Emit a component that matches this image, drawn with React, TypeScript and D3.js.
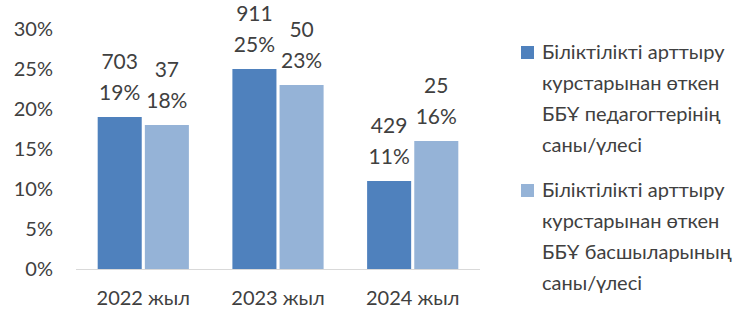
import React, { useEffect, useRef } from 'react';
import * as d3 from 'd3';

const categories = ['2022 жыл', '2023 жыл', '2024 жыл'];
const teacherShare = [19, 25, 11];
const teacherCount = [703, 911, 429];
const headShare = [18, 23, 16];
const headCount = [37, 50, 25];
const yTicks = [0, 5, 10, 15, 20, 25, 30];
const legendLines = [
  ['Біліктілікті арттыру', 'курстарынан өткен', 'ББҰ педагогтерінің', 'саны/үлесі'],
  ['Біліктілікті арттыру', 'курстарынан өткен', 'ББҰ басшыларының', 'саны/үлесі'],
];

const colors = ['#4F81BD', '#95B3D7'];
const font = 'Lato, "Open Sans", sans-serif';
const textColor = '#404040';

export default function App() {
  const svgRef = useRef<SVGSVGElement>(null);

  useEffect(() => {
    if (!svgRef.current) return;
    const width = 750;
    const height = 309;
    const svg = d3.select(svgRef.current).attr('width', width).attr('height', height).html('');

    const x0 = d3.scaleBand().domain(categories).range([76, 480]).paddingInner(0.323).paddingOuter(0.161);
    const x1 = d3.scaleBand().domain(['a', 'b']).range([0, x0.bandwidth()]).paddingInner(0.066);
    const y = d3.scaleLinear().domain([0, 30]).range([269, 29]);

    // y tick labels
    svg.append('g').selectAll('text')
      .data(yTicks)
      .enter()
      .append('text')
      .attr('x', 53)
      .attr('y', d => y(d))
      .attr('dy', '0.35em')
      .attr('text-anchor', 'end')
      .attr('font-family', font)
      .attr('font-size', 20)
      .attr('fill', textColor)
      .text(d => `${d}%`);

    const series = [
      { key: 'a', share: teacherShare, count: teacherCount },
      { key: 'b', share: headShare, count: headCount },
    ];

    series.forEach((s, si) => {
      const g = svg.append('g');
      g.selectAll('rect')
        .data(categories)
        .enter()
        .append('rect')
        .attr('x', d => (x0(d) ?? 0) + (x1(s.key) ?? 0))
        .attr('y', (_, i) => y(s.share[i]))
        .attr('width', x1.bandwidth())
        .attr('height', (_, i) => y(0) - y(s.share[i]))
        .attr('fill', colors[si]);

      const labels = g.selectAll('text.lbl')
        .data(categories)
        .enter()
        .append('text')
        .attr('class', 'lbl')
        .attr('text-anchor', 'middle')
        .attr('font-family', font)
        .attr('font-size', 21)
        .attr('fill', textColor);
      labels.append('tspan')
        .attr('x', d => (x0(d) ?? 0) + (x1(s.key) ?? 0) + x1.bandwidth() / 2)
        .attr('y', (_, i) => y(s.share[i]) - 24 - 31)
        .attr('dy', '0.35em')
        .text((_, i) => `${s.count[i]}`);
      labels.append('tspan')
        .attr('x', d => (x0(d) ?? 0) + (x1(s.key) ?? 0) + x1.bandwidth() / 2)
        .attr('y', (_, i) => y(s.share[i]) - 24)
        .attr('dy', '0.35em')
        .text((_, i) => `${s.share[i]}%`);
    });

    // baseline
    svg.append('line')
      .attr('x1', 76)
      .attr('x2', 480)
      .attr('y1', y(0) + 0.5)
      .attr('y2', y(0) + 0.5)
      .attr('stroke', '#D9D9D9')
      .attr('stroke-width', 1);

    // category labels
    svg.append('g').selectAll('text')
      .data(categories)
      .enter()
      .append('text')
      .attr('x', d => (x0(d) ?? 0) + x0.bandwidth() / 2)
      .attr('y', 305)
      .attr('text-anchor', 'middle')
      .attr('font-family', font)
      .attr('font-size', 20)
      .attr('fill', textColor)
      .text(d => d);

    // legend
    legendLines.forEach((lines, li) => {
      const top = 52 + li * 138;
      svg.append('rect')
        .attr('x', 521)
        .attr('y', top - 6)
        .attr('width', 13)
        .attr('height', 13)
        .attr('fill', colors[li]);
      const t = svg.append('text')
        .attr('font-family', font)
        .attr('font-size', 20)
        .attr('fill', textColor);
      lines.forEach((line, k) => {
        t.append('tspan')
          .attr('x', 542)
          .attr('y', top + k * 31)
          .attr('dy', '0.35em')
          .text(line);
      });
    });
  }, []);

  return (
    <div style={{ position: 'absolute', left: 0, top: 0 }}>
      <svg ref={svgRef} style={{ display: 'block' }} />
    </div>
  );
}
